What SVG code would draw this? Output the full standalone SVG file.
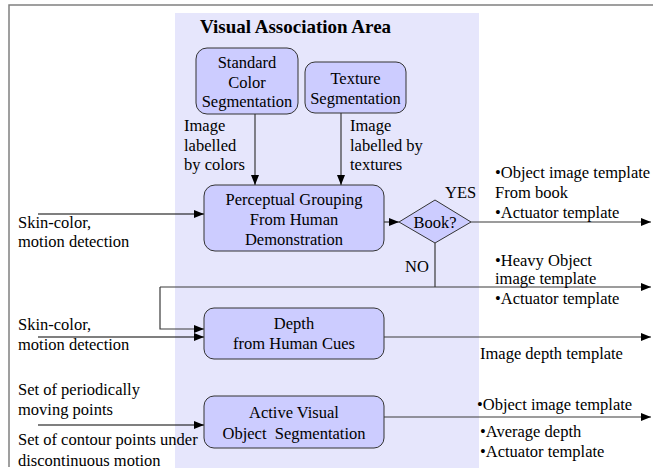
<svg xmlns="http://www.w3.org/2000/svg" width="653" height="473" viewBox="0 0 653 473">
<defs>
<style>
text{font-family:"Liberation Serif","Times New Roman",Times,serif;font-size:16.5px;fill:#000}
.c{text-anchor:middle}
.title{font-weight:bold;font-size:19px}
.box{fill:#ccccff;stroke:#333;stroke-width:1}
.ln{fill:none;stroke:#3a3a3a;stroke-width:1.2}
.lk{fill:none;stroke:#000;stroke-width:1.2}
</style>
<marker id="ah" markerWidth="10" markerHeight="8" refX="10" refY="4" orient="auto" markerUnits="userSpaceOnUse">
<path d="M0,0 L10,4 L0,8 Z" fill="#000"/>
</marker>
</defs>
<rect width="653" height="473" fill="#fff"/>
<path d="M9,467 V5 H653" fill="none" stroke="#808080" stroke-width="1.5"/>
<g id="area">
<rect x="175" y="13" width="304" height="455" fill="#e6e6fc"/>
<text class="title" x="200" y="33">Visual Association Area</text>
</g>
<g id="connectors">
<path class="ln" d="M255,114 V185" marker-end="url(#ah)"/>
<path class="ln" d="M341,113 V185" marker-end="url(#ah)"/>
<path class="lk" d="M38,214 H204" marker-end="url(#ah)"/>
<path class="ln" d="M384,222 H399" marker-end="url(#ah)"/>
<path class="ln" d="M471,222 H651" marker-end="url(#ah)"/>
<path class="ln" d="M435,243 V287"/>
<path class="ln" d="M160,287 H651" marker-end="url(#ah)"/>
<path class="ln" d="M160,287 V329 H204" marker-end="url(#ah)"/>
<path class="lk" d="M38,337 H204" marker-end="url(#ah)"/>
<path class="ln" d="M384,337 H651" marker-end="url(#ah)"/>
<path class="lk" d="M38,425 H204" marker-end="url(#ah)"/>
<path class="ln" d="M384,417 H651" marker-end="url(#ah)"/>
</g>
<g id="color-seg">
<rect class="box" x="196" y="48" width="102" height="66" rx="11"/>
<text class="c" x="247" y="68">Standard</text>
<text class="c" x="247" y="88">Color</text>
<text class="c" x="247" y="107">Segmentation</text>
</g>
<g id="texture-seg">
<rect class="box" x="305" y="62" width="101" height="51" rx="10"/>
<text class="c" x="355.5" y="84">Texture</text>
<text class="c" x="355.5" y="104">Segmentation</text>
</g>
<g id="label-colors">
<text x="184" y="131">Image</text>
<text x="184" y="151">labelled</text>
<text x="184" y="170">by colors</text>
</g>
<g id="label-textures">
<text x="350" y="131">Image</text>
<text x="350" y="151">labelled by</text>
<text x="350" y="170">textures</text>
</g>
<g id="perceptual">
<rect class="box" x="204" y="185" width="180" height="66" rx="11"/>
<text class="c" x="294" y="205">Perceptual Grouping</text>
<text class="c" x="294" y="225">From Human</text>
<text class="c" x="294" y="245">Demonstration</text>
</g>
<g id="book">
<polygon class="box" points="399,222 435,200 471,222 435,243"/>
<text class="c" x="435" y="228">Book?</text>
<text x="445" y="198">YES</text>
<text x="405" y="272">NO</text>
</g>
<g id="depth">
<rect class="box" x="204" y="308" width="180" height="51" rx="10"/>
<text class="c" x="294" y="329">Depth</text>
<text class="c" x="294" y="349">from Human Cues</text>
</g>
<g id="active">
<rect class="box" x="204" y="396" width="180" height="52" rx="10"/>
<text class="c" x="294" y="418">Active Visual</text>
<text class="c" x="294" y="439" xml:space="preserve">Object  Segmentation</text>
</g>
<g id="inputs">
<text x="18" y="228">Skin-color,</text>
<text x="18" y="247">motion detection</text>
<text x="18" y="330">Skin-color,</text>
<text x="18" y="350">motion detection</text>
<text x="18" y="395">Set of periodically</text>
<text x="18" y="415">moving points</text>
<text x="18" y="445">Set of contour points under</text>
<text x="18" y="466">discontinuous motion</text>
</g>
<g id="outputs">
<text x="495" y="178">•Object image template</text>
<text x="495" y="198">From book</text>
<text x="495" y="218">•Actuator template</text>
<text x="495" y="266">•Heavy Object</text>
<text x="495" y="284">image template</text>
<text x="495" y="304">•Actuator template</text>
<text x="480" y="359">Image depth template</text>
<text x="477" y="410">•Object image template</text>
<text x="480" y="437">•Average depth</text>
<text x="480" y="457">•Actuator template</text>
</g>
</svg>
